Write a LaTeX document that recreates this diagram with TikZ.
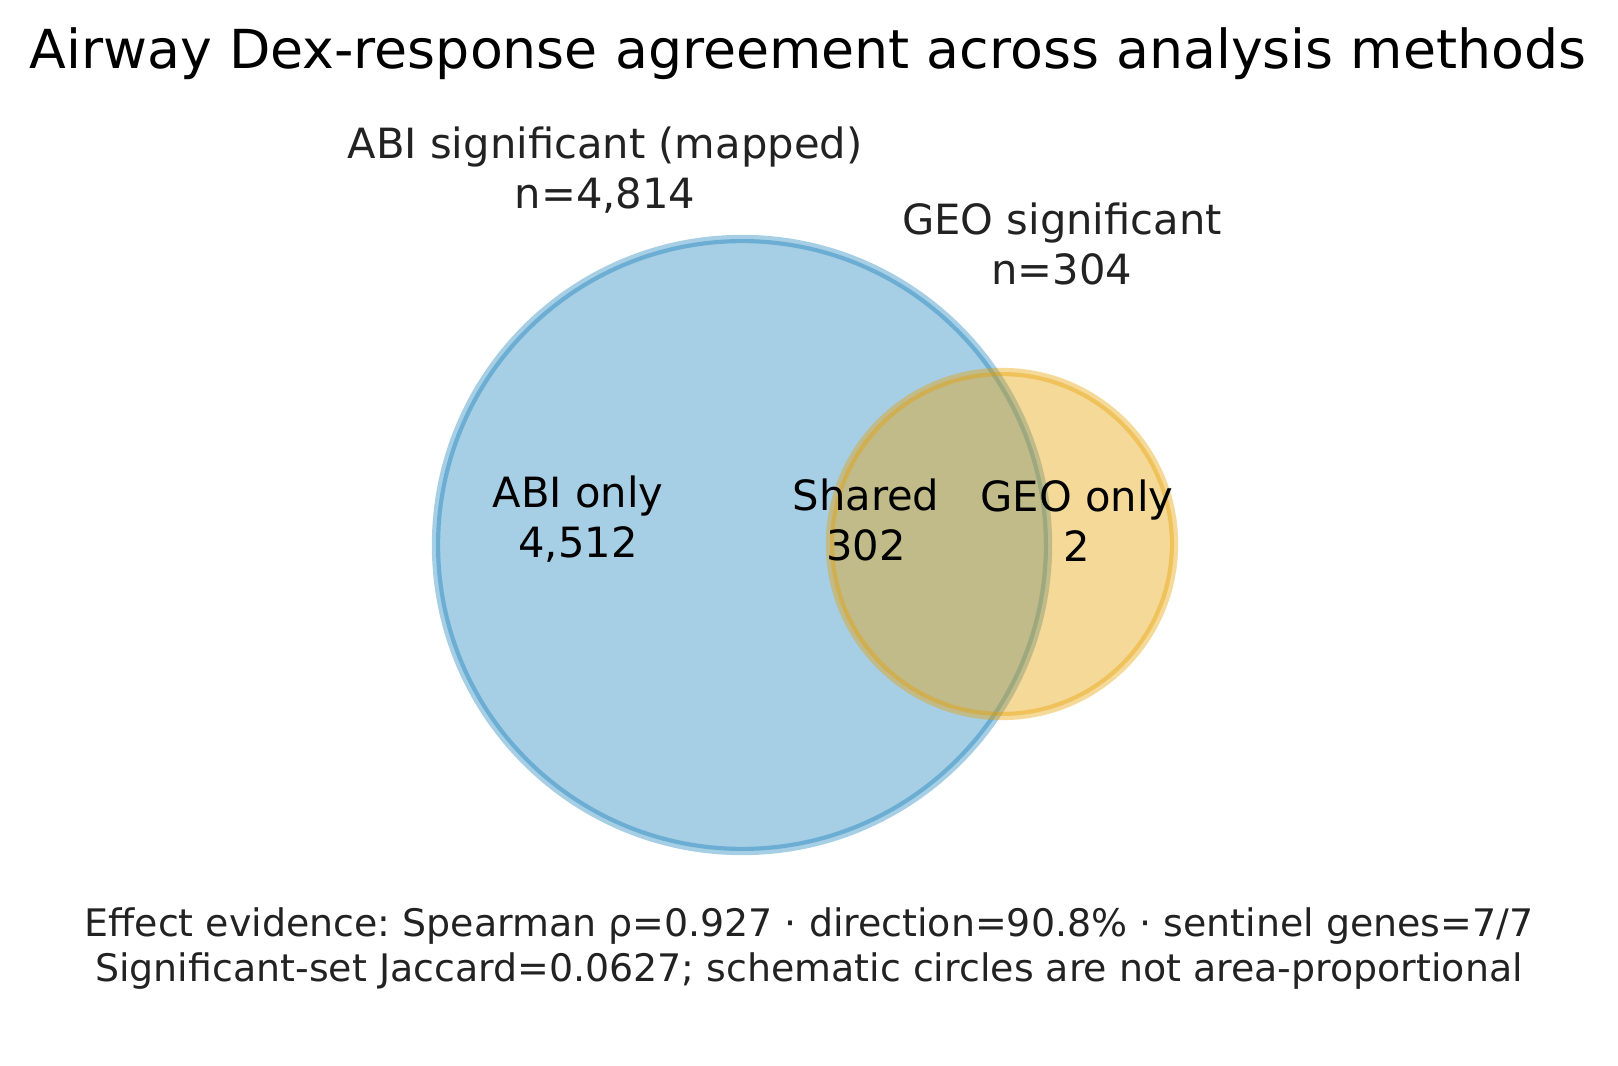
\documentclass[tikz,border=0pt]{standalone}
\usepackage{fontspec}
\setmainfont{DejaVu Sans}
\frenchspacing

\definecolor{abiblue}{HTML}{0072B2}
\definecolor{geoorange}{HTML}{E69F00}
\definecolor{labelgray}{HTML}{222222}

\begin{document}
\begin{tikzpicture}[x=0.24pt, y=-0.24pt,
    setcircle/.style={line width=2pt},
    setlabel/.style={anchor=base, align=center, inner sep=0pt, text=labelgray, font=\fontsize{10}{12}\selectfont},
    regionlabel/.style={anchor=base, align=center, inner sep=0pt, text=black, font=\fontsize{10}{12}\selectfont},
    notelabel/.style={anchor=base, align=center, inner sep=0pt, text=labelgray, font=\fontsize{9.1}{10.8}\selectfont}]
    % page size (pixel units, y downwards)
    \useasboundingbox (0,0) rectangle (1618,1066);

    % radii of the two schematic circles
    \def\rabi{306}
    \def\rgeo{172}

    % circle centres
    \coordinate (A) at (742,545);
    \coordinate (G) at (1002,544);

    % ABI circle first, GEO circle on top
    \path[setcircle, fill=abiblue, draw=abiblue, fill opacity=0.35, draw opacity=0.35] (A) circle (\rabi);
    \path[setcircle, fill=geoorange, draw=geoorange, fill opacity=0.4, draw opacity=0.4] (G) circle (\rgeo);

    % title
    \node (title) at (808,68) [anchor=base, inner sep=0pt, font=\fontsize{12.9}{15.5}\selectfont] {Airway Dex-response agreement across analysis methods};

    % set labels above the circles (base = last line)
    \node (abiset) at (605,208) [setlabel] {ABI significant (mapped)\\n=4,814};
    \node (geoset) at (1062,284) [setlabel] {GEO significant\\n=304};

    % region counts
    \node (abionly) at (578,557) [regionlabel] {ABI only\\4,512};
    \node (shared) at (866,560) [regionlabel] {Shared\\302};
    \node (geoonly) at (1077,561) [regionlabel] {GEO only\\2};

    % footnote under the diagram
    \node (note) at (809,981) [notelabel] {Effect evidence: Spearman ρ=0.927 · direction=90.8\% · sentinel genes=7/7\\Significant-set Jaccard=0.0627; schematic circles are not area-proportional};
\end{tikzpicture}
\end{document}
